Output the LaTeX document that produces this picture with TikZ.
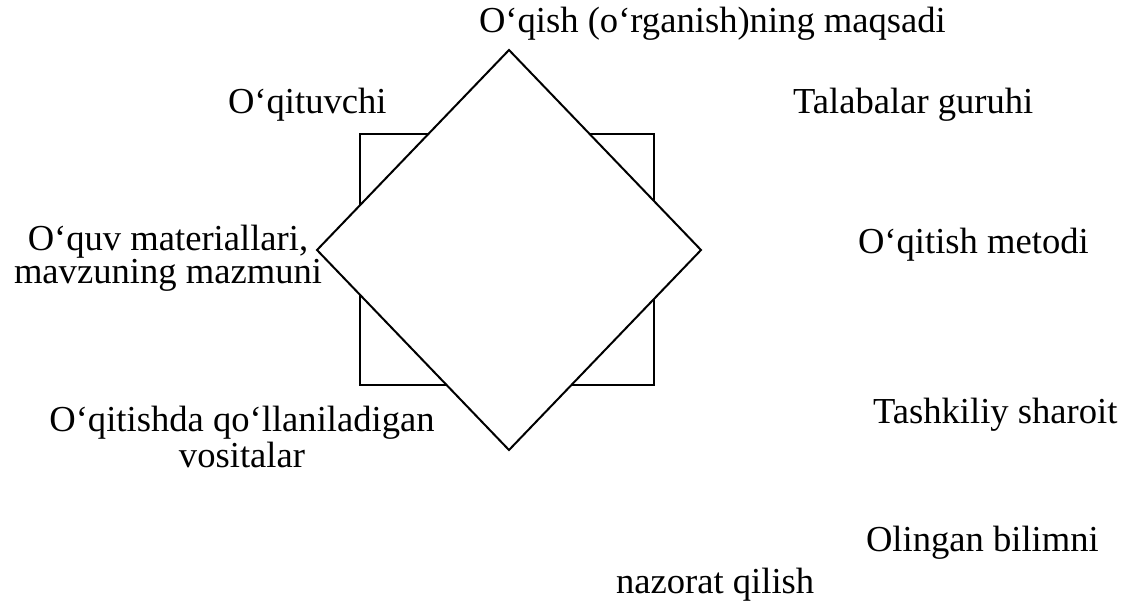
\documentclass[tikz,border=0pt]{standalone}
\usepackage{fontspec}
\setmainfont{Liberation Serif}

\begin{document}
\begin{tikzpicture}
  [x=0.5pt, y=-0.5pt, line width=1pt,
   every node/.style={inner sep=0pt, font=\fontsize{18.3}{16.5}\selectfont},
   label left/.style={anchor=base west},
   label mid/.style={anchor=base, align=center}]
  \useasboundingbox (0,0) rectangle (1128,601);
  % square behind, diamond on top
  \node [draw, minimum width=147pt, minimum height=125.5pt] (frame) at (507,259.5) {};
  \coordinate (top) at (509,50);
  \coordinate (right) at (701,250);
  \coordinate (bottom) at (509,450);
  \coordinate (left) at (317,250);
  \draw [fill=white] (top) -- (right) -- (bottom) -- (left) -- cycle;
  % labels (two-line ones sit on their last baseline)
  \node [label left] (goal) at (478,32) {O‘qish (o‘rganish)ning maqsadi};
  \node [label left] (teacher) at (227,113) {O‘qituvchi};
  \node [label left] (group) at (792,113) {Talabalar guruhi};
  \node [label mid] (content) at (168,283) {O‘quv materiallari,\\mavzuning mazmuni};
  \node [label left] (method) at (857,253) {O‘qitish metodi};
  \node [label mid] (tools) at (242,467) {O‘qitishda qo‘llaniladigan\\vositalar};
  \node [label left] (setting) at (872,423) {Tashkiliy sharoit};
  \node [label left] (check) at (865,551) {Olingan bilimni};
  \node [label left] (check2) at (615,593) {nazorat qilish};
\end{tikzpicture}
\end{document}
